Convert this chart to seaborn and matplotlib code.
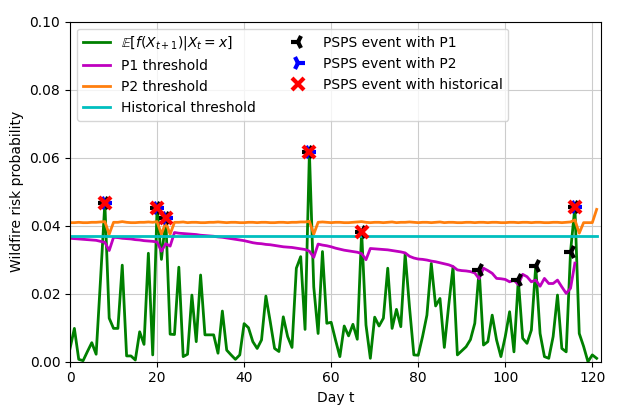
import numpy as np
import matplotlib
matplotlib.use('Agg')
import matplotlib.pyplot as plt
import seaborn as sns

# expected next-day wildfire risk, days 0..121
risk = [0.0039, 0.0098, 0.0007, 0.0003, 0.0030, 0.0056, 0.0022, 0.0240, 0.0467, 0.0128,
        0.0098, 0.0098, 0.0284, 0.0017, 0.0017, 0.0005, 0.0088, 0.0051, 0.0319, 0.0020,
        0.0453, 0.0301, 0.0422, 0.0081, 0.0080, 0.0278, 0.0015, 0.0022, 0.0196, 0.0059,
        0.0255, 0.0079, 0.0079, 0.0079, 0.0025, 0.0149, 0.0034, 0.0020, 0.0007, 0.0020,
        0.0112, 0.0100, 0.0059, 0.0039, 0.0064, 0.0193, 0.0118, 0.0039, 0.0030, 0.0132,
        0.0074, 0.0042, 0.0275, 0.0309, 0.0095, 0.0617, 0.0220, 0.0083, 0.0324, 0.0113,
        0.0116, 0.0064, 0.0015, 0.0105, 0.0076, 0.0110, 0.0066, 0.0382, 0.0108, 0.0010,
        0.0131, 0.0105, 0.0128, 0.0275, 0.0098, 0.0154, 0.0103, 0.0317, 0.0160, 0.0020,
        0.0019, 0.0074, 0.0137, 0.0289, 0.0164, 0.0186, 0.0042, 0.0165, 0.0279, 0.0020,
        0.0032, 0.0044, 0.0065, 0.0113, 0.0270, 0.0049, 0.0059, 0.0137, 0.0064, 0.0015,
        0.0074, 0.0147, 0.0029, 0.0241, 0.0069, 0.0054, 0.0093, 0.0281, 0.0083, 0.0015,
        0.0010, 0.0074, 0.0196, 0.0039, 0.0029, 0.0324, 0.0455, 0.0083, 0.0045, 0.0000,
        0.0020, 0.0010]

# P1 threshold, days 0..116
p1 = [0.0363, 0.0362, 0.0361, 0.0360, 0.0359, 0.0358, 0.0357, 0.0354, 0.0351, 0.0327,
      0.0366, 0.0365, 0.0363, 0.0362, 0.0361, 0.0359, 0.0358, 0.0356, 0.0355, 0.0354,
      0.0352, 0.0325, 0.0347, 0.0340, 0.0380, 0.0378, 0.0377, 0.0376, 0.0375, 0.0374,
      0.0372, 0.0371, 0.0370, 0.0369, 0.0367, 0.0366, 0.0364, 0.0362, 0.0360, 0.0358,
      0.0356, 0.0353, 0.0350, 0.0348, 0.0347, 0.0345, 0.0344, 0.0342, 0.0340, 0.0338,
      0.0337, 0.0336, 0.0334, 0.0332, 0.0330, 0.0325, 0.0307, 0.0346, 0.0343, 0.0341,
      0.0338, 0.0334, 0.0331, 0.0328, 0.0326, 0.0324, 0.0322, 0.0318, 0.0300, 0.0333,
      0.0332, 0.0331, 0.0330, 0.0329, 0.0327, 0.0325, 0.0323, 0.0320, 0.0310, 0.0305,
      0.0302, 0.0301, 0.0299, 0.0296, 0.0294, 0.0291, 0.0288, 0.0285, 0.0280, 0.0270,
      0.0268, 0.0267, 0.0265, 0.0261, 0.0244, 0.0275, 0.0268, 0.0260, 0.0245, 0.0244,
      0.0242, 0.0235, 0.0240, 0.0227, 0.0257, 0.0250, 0.0235, 0.0240, 0.0222, 0.0245,
      0.0230, 0.0230, 0.0240, 0.0220, 0.0201, 0.0216, 0.0290]

# P2 threshold, days 0..121
p2 = [0.0409, 0.0409, 0.0410, 0.0409, 0.0409, 0.0410, 0.0410, 0.0411, 0.0412, 0.0375,
      0.0410, 0.0410, 0.0412, 0.0410, 0.0409, 0.0409, 0.0410, 0.0410, 0.0411, 0.0410,
      0.0412, 0.0375, 0.0410, 0.0375, 0.0410, 0.0410, 0.0411, 0.0409, 0.0410, 0.0410,
      0.0409, 0.0409, 0.0410, 0.0410, 0.0411, 0.0410, 0.0409, 0.0410, 0.0410, 0.0409,
      0.0409, 0.0410, 0.0410, 0.0409, 0.0410, 0.0410, 0.0409, 0.0409, 0.0410, 0.0410,
      0.0409, 0.0410, 0.0410, 0.0411, 0.0411, 0.0413, 0.0375, 0.0410, 0.0411, 0.0410,
      0.0409, 0.0410, 0.0410, 0.0409, 0.0409, 0.0410, 0.0411, 0.0412, 0.0410, 0.0409,
      0.0410, 0.0410, 0.0409, 0.0410, 0.0411, 0.0409, 0.0410, 0.0410, 0.0411, 0.0410,
      0.0409, 0.0410, 0.0410, 0.0409, 0.0410, 0.0411, 0.0409, 0.0410, 0.0410, 0.0409,
      0.0409, 0.0410, 0.0410, 0.0409, 0.0410, 0.0410, 0.0409, 0.0410, 0.0410, 0.0409,
      0.0409, 0.0410, 0.0410, 0.0409, 0.0410, 0.0410, 0.0409, 0.0410, 0.0410, 0.0409,
      0.0409, 0.0410, 0.0410, 0.0409, 0.0410, 0.0411, 0.0417, 0.0378, 0.0409, 0.0409,
      0.0409, 0.0448]

hist_threshold = 0.037

p1_events = [8, 20, 22, 55, 67, 94, 103, 107, 115, 116]
p2_events = [8, 20, 22, 55, 116]
hist_events = [8, 20, 22, 55, 67, 116]

days = np.arange(len(risk))
risk = np.array(risk)

fig = plt.figure(figsize=(6.23, 4.15), dpi=100)
ax = fig.add_axes([0.1124, 0.1284, 0.8523, 0.8193])

sns.lineplot(x=days, y=risk, color='green', lw=2,
             label=r'$\mathbb{E}[f(X_{t+1})|X_t=x]$', ax=ax)
sns.lineplot(x=np.arange(len(p1)), y=p1, color='m', lw=2, label='P1 threshold', ax=ax)
sns.lineplot(x=np.arange(len(p2)), y=p2, color='tab:orange', lw=2, label='P2 threshold', ax=ax)
sns.lineplot(x=days, y=np.full(len(days), hist_threshold), color='c', lw=2,
             label='Historical threshold', ax=ax)

ax.plot(p1_events, risk[p1_events], '3', color='k', ms=10, mew=3,
        linestyle='none', label='PSPS event with P1')
ax.plot(p2_events, risk[p2_events], '4', color='b', ms=10, mew=3,
        linestyle='none', label='PSPS event with P2')
ax.plot(hist_events, risk[hist_events], 'x', color='r', ms=8, mew=3,
        linestyle='none', label='PSPS event with historical')

ax.set_xlim(0, 122)
ax.set_ylim(0, 0.1)
ax.xaxis.set_major_locator(plt.MultipleLocator(20))
ax.yaxis.set_major_locator(plt.MultipleLocator(0.02))
ax.yaxis.set_major_formatter(plt.FormatStrFormatter('%.2f'))
ax.grid(True, color='#cccccc', lw=0.8)
ax.set_axisbelow(True)
ax.set_xlabel('Day t')
ax.set_ylabel('Wildfire risk probability')
ax.legend(loc='upper left', ncol=2, fontsize=10)

fig.savefig('out.png', dpi=100)
